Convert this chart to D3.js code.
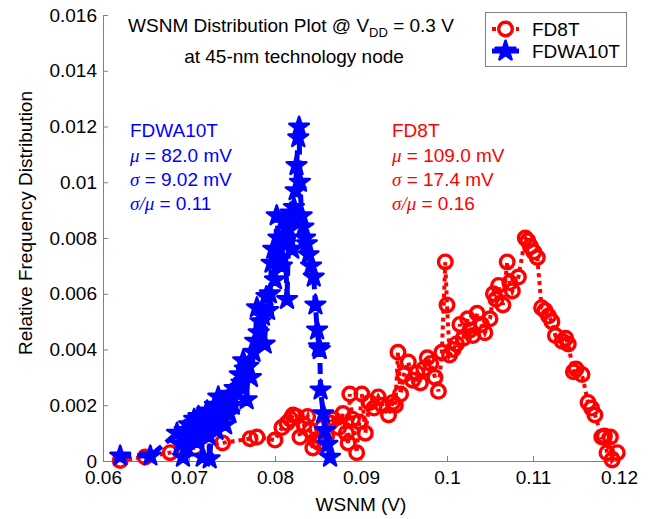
<!DOCTYPE html>
<html lang="en">
<head>
<meta charset="UTF-8">
<title>WSNM Distribution Plot</title>
<style>
  body { margin: 0; background: #fff; }
  svg text { font-family: "Liberation Sans", Arial, sans-serif; }
</style>
</head>
<body>
<script src="https://d3js.org/d3.v7.min.js"></script>
<script>
  // tick values
  var xTicks = [0.06, 0.07, 0.08, 0.09, 0.1, 0.11, 0.12];
  var yTicks = [0, 0.002, 0.004, 0.006, 0.008, 0.01, 0.012, 0.014, 0.016];

  // FD8T (red circles)
  var fd8tX = [0.0620, 0.0649, 0.0678, 0.0707, 0.0739, 0.0771, 0.0779, 0.0800, 0.0808, 0.0814,
               0.0818, 0.0821, 0.0825, 0.0829, 0.0834, 0.0838, 0.0841, 0.0844, 0.0847, 0.0852,
               0.0855, 0.0860, 0.0864, 0.0868, 0.0874, 0.0879, 0.0883, 0.0885, 0.0887, 0.0890,
               0.0895, 0.0898, 0.0901, 0.0905, 0.0910, 0.0915, 0.0920, 0.0925, 0.0932, 0.0937,
               0.0940, 0.0943, 0.0946, 0.0950, 0.0955, 0.0960, 0.0965, 0.0969, 0.0973, 0.0977,
               0.0981, 0.0986, 0.0990, 0.0994, 0.0998, 0.1000, 0.1003, 0.1007, 0.1011, 0.1015,
               0.1019, 0.1024, 0.1027, 0.1030, 0.1035, 0.1040, 0.1044, 0.1050, 0.1054, 0.1057,
               0.1060, 0.1065, 0.1070, 0.1073, 0.1076, 0.1083, 0.1091, 0.1094, 0.1097, 0.1101,
               0.1105, 0.1110, 0.1114, 0.1118, 0.1122, 0.1126, 0.1134, 0.1138, 0.1141, 0.1147,
               0.1150, 0.1157, 0.1164, 0.1168, 0.1172, 0.1180, 0.1183, 0.1186, 0.1190, 0.1192,
               0.1198];
  var fd8tY = [0.00002, 0.00014, 0.00030, 0.00047, 0.00065, 0.00080, 0.00086, 0.00075, 0.00120, 0.00136,
               0.00150, 0.00165, 0.00160, 0.00086, 0.00130, 0.00160, 0.00110, 0.00047, 0.00075, 0.00065,
               0.00120, 0.00090, 0.00136, 0.00150, 0.00120, 0.00170, 0.00100, 0.00065, 0.00240, 0.00150,
               0.00030, 0.00140, 0.00240, 0.00100, 0.00210, 0.00190, 0.00230, 0.00200, 0.00165, 0.00210,
               0.00200, 0.00390, 0.00240, 0.00310, 0.00355, 0.00290, 0.00315, 0.00280, 0.00330, 0.00370,
               0.00350, 0.00300, 0.00250, 0.00390, 0.00714, 0.00560, 0.00380, 0.00400, 0.00420, 0.00490,
               0.00440, 0.00510, 0.00470, 0.00450, 0.00530, 0.00490, 0.00460, 0.00510, 0.00600, 0.00580,
               0.00630, 0.00560, 0.00714, 0.00640, 0.00610, 0.00660, 0.00800, 0.00790, 0.00770, 0.00750,
               0.00730, 0.00550, 0.00540, 0.00520, 0.00500, 0.00450, 0.00430, 0.00440, 0.00420, 0.00320,
               0.00330, 0.00310, 0.00210, 0.00190, 0.00165, 0.00086, 0.00090, 0.00030, 0.00086, 0.00004,
               0.00030];

  // FDWA10T (blue stars)
  var fdwaX = [0.0620, 0.0655, 0.0686, 0.0690, 0.0693, 0.0695, 0.0697, 0.0700, 0.0703, 0.0706,
               0.0709, 0.0711, 0.0714, 0.0716, 0.0718, 0.0721, 0.0723, 0.0724, 0.0727, 0.0730,
               0.0732, 0.0734, 0.0737, 0.0740, 0.0742, 0.0744, 0.0747, 0.0749, 0.0751, 0.0753,
               0.0756, 0.0759, 0.0761, 0.0763, 0.0765, 0.0767, 0.0769, 0.0772, 0.0775, 0.0777,
               0.0779, 0.0781, 0.0783, 0.0786, 0.0788, 0.0790, 0.0792, 0.0794, 0.0796, 0.0798,
               0.0800, 0.0802, 0.0804, 0.0806, 0.0808, 0.0810, 0.0812, 0.0814, 0.0816, 0.0818,
               0.0820, 0.0822, 0.0824, 0.0825, 0.0827, 0.0828, 0.0829, 0.0831, 0.0833, 0.0835,
               0.0837, 0.0839, 0.0842, 0.0845, 0.0847, 0.0849, 0.0851, 0.0852, 0.0853, 0.0856,
               0.0858, 0.0861, 0.0864];
  var fdwaY = [0.00018, 0.00018, 0.00100, 0.00060, 0.00014, 0.00110, 0.00050, 0.00130, 0.00085, 0.00150,
               0.00070, 0.00160, 0.00100, 0.00014, 0.00120, 0.00180, 0.00090, 0.00008, 0.00140, 0.00200,
               0.00110, 0.00230, 0.00150, 0.00190, 0.00130, 0.00210, 0.00170, 0.00240, 0.00200, 0.00260,
               0.00244, 0.00310, 0.00280, 0.00360, 0.00330, 0.00220, 0.00340, 0.00300, 0.00390, 0.00430,
               0.00550, 0.00460, 0.00500, 0.00520, 0.00420, 0.00590, 0.00540, 0.00600, 0.00710, 0.00760,
               0.00650, 0.00880, 0.00800, 0.00730, 0.00700, 0.00860, 0.00780, 0.00580, 0.00830, 0.00890,
               0.00760, 0.00910, 0.00970, 0.01060, 0.01160, 0.01198, 0.01000, 0.00880, 0.00840, 0.00800,
               0.00780, 0.00740, 0.00700, 0.00660, 0.00560, 0.00470, 0.00410, 0.00400, 0.00255, 0.00170,
               0.00110, 0.00060, 0.00014];

  var width = 649, height = 519;
  var plotLeft = 103, plotRight = 619, plotTop = 15, plotBottom = 461;

  var svg = d3.select('body').append('svg')
    .attr('width', width).attr('height', height);

  var x = d3.scaleLinear().domain([0.06, 0.12]).range([plotLeft, plotRight]);
  var y = d3.scaleLinear().domain([0, 0.016]).range([plotBottom, plotTop]);

  var fmt = function (d) { return String(+d.toFixed(3)); };

  // axes, ticks pointing inward, no box
  var gx = svg.append('g').attr('transform', 'translate(0,' + plotBottom + ')')
    .call(d3.axisBottom(x).tickValues(xTicks).tickFormat(fmt)
      .tickSizeInner(-5).tickSizeOuter(0).tickPadding(10));
  var gy = svg.append('g').attr('transform', 'translate(' + plotLeft + ',0)')
    .call(d3.axisLeft(y).tickValues(yTicks).tickFormat(fmt)
      .tickSizeInner(-5).tickSizeOuter(0).tickPadding(6));
  [gx, gy].forEach(function (g) {
    g.select('.domain').attr('stroke', '#808080');
    g.selectAll('.tick line').attr('stroke', '#808080');
    g.selectAll('.tick text').attr('fill', '#000').style('font-size', '19px')
      .style('font-family', '"Liberation Sans", Arial, sans-serif');
  });

  svg.append('text').attr('x', (plotLeft + plotRight) / 2).attr('y', 511)
    .attr('text-anchor', 'middle').style('font-size', '19px').text('WSNM (V)');
  svg.append('text')
    .attr('transform', 'translate(32,223) rotate(-90)')
    .attr('text-anchor', 'middle').style('font-size', '19px')
    .text('Relative Frequency Distribution');

  var redPts = fd8tX.map(function (v, i) { return [v, fd8tY[i]]; });
  var bluePts = fdwaX.map(function (v, i) { return [v, fdwaY[i]]; });
  var line = d3.line().x(function (d) { return x(d[0]); }).y(function (d) { return y(d[1]); });

  // FD8T: dotted line, open circles
  svg.append('path').datum(redPts).attr('d', line)
    .attr('fill', 'none').attr('stroke', '#ff0000')
    .attr('stroke-width', 4).attr('stroke-dasharray', '4,4');
  svg.append('g').selectAll('circle').data(redPts).enter().append('circle')
    .attr('cx', function (d) { return x(d[0]); })
    .attr('cy', function (d) { return y(d[1]); })
    .attr('r', 6.8).attr('fill', 'none')
    .attr('stroke', '#ff0000').attr('stroke-width', 3.4);

  // FDWA10T: dashed line, filled stars
  var star = d3.symbol().type(d3.symbolStar).size(120);
  svg.append('path').datum(bluePts).attr('d', line)
    .attr('fill', 'none').attr('stroke', '#0000ff')
    .attr('stroke-width', 5).attr('stroke-dasharray', '11,6');
  svg.append('g').selectAll('path').data(bluePts).enter().append('path')
    .attr('d', star)
    .attr('transform', function (d) { return 'translate(' + x(d[0]) + ',' + y(d[1]) + ')'; })
    .attr('fill', '#0000ff').attr('stroke', '#0000ff')
    .attr('stroke-width', 2.5).attr('stroke-linejoin', 'round');

  // title
  var t1 = svg.append('text').attr('x', 291).attr('y', 32)
    .attr('text-anchor', 'middle').style('font-size', '19px');
  t1.append('tspan').text('WSNM Distribution Plot @ V');
  t1.append('tspan').attr('dy', 5).style('font-size', '13px').text('DD');
  t1.append('tspan').attr('dy', -5).text(' = 0.3 V');
  svg.append('text').attr('x', 294).attr('y', 63)
    .attr('text-anchor', 'middle').style('font-size', '19px')
    .text('at 45-nm technology node');

  // statistics blocks
  var statsBlue = ['FDWA10T', '82.0 mV', '9.02 mV', '0.11'];
  var statsRed = ['FD8T', '109.0 mV', '17.4 mV', '0.16'];
  function stats(x0, color, s) {
    var g = svg.append('g').attr('fill', color).style('font-size', '19px');
    var ys = [137, 161.5, 186, 210];
    g.append('text').attr('x', x0).attr('y', ys[0]).text(s[0]);
    var greek = [['\u03bc'], ['\u03c3'], ['\u03c3', '/', '\u03bc']];
    greek.forEach(function (gk, i) {
      var t = g.append('text').attr('x', x0).attr('y', ys[i + 1]);
      gk.forEach(function (c) {
        t.append('tspan').style('font-family', '"Liberation Serif", "Times New Roman", serif')
          .style('font-style', 'italic').text(c);
      });
      t.append('tspan').text(' = ' + s[i + 1]);
    });
  }
  stats(130, '#0000ff', statsBlue);
  stats(392, '#ff0000', statsRed);

  // legend
  var lg = svg.append('g');
  lg.append('rect').attr('x', 485.5).attr('y', 12.5).attr('width', 141).attr('height', 54)
    .attr('fill', '#fff').attr('stroke', '#808080').attr('stroke-width', 1);
  lg.append('line').attr('x1', 492).attr('x2', 519).attr('y1', 29).attr('y2', 29)
    .attr('stroke', '#ff0000').attr('stroke-width', 4).attr('stroke-dasharray', '4,4');
  lg.append('circle').attr('cx', 505.5).attr('cy', 29).attr('r', 6.8)
    .attr('fill', '#fff').attr('stroke', '#ff0000').attr('stroke-width', 3.4);
  lg.append('line').attr('x1', 492).attr('x2', 519).attr('y1', 51).attr('y2', 51)
    .attr('stroke', '#0000ff').attr('stroke-width', 5);
  lg.append('path').attr('d', star).attr('transform', 'translate(505.5,51)')
    .attr('fill', '#0000ff').attr('stroke', '#0000ff').attr('stroke-width', 2.5)
    .attr('stroke-linejoin', 'round');
  lg.append('text').attr('x', 532).attr('y', 36).style('font-size', '19px').text('FD8T');
  lg.append('text').attr('x', 532).attr('y', 58).style('font-size', '19px').text('FDWA10T');
</script>
</body>
</html>
